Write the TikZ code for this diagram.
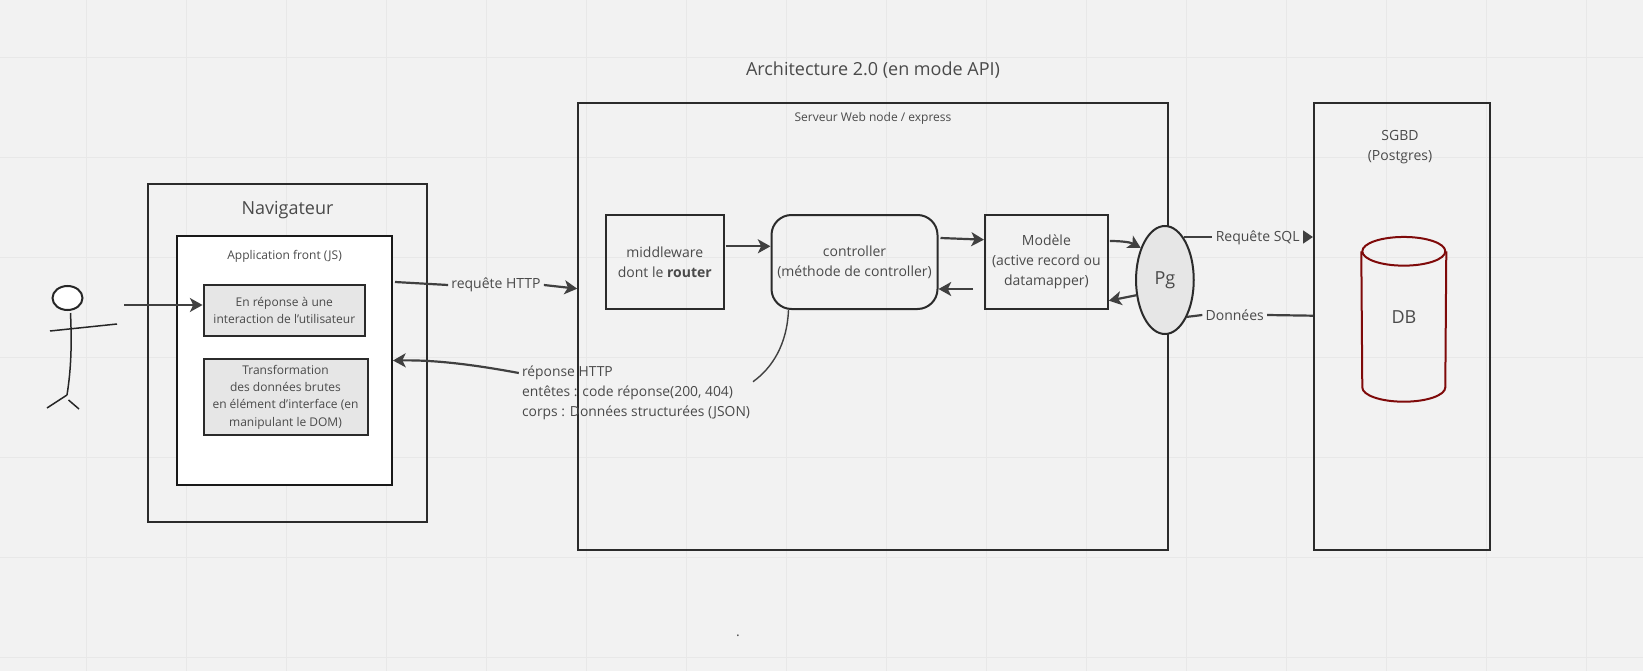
\documentclass[tikz,border=0pt]{standalone}
\usepackage{fontspec}
\setmainfont{Open Sans}
\usetikzlibrary{shapes.geometric,arrows.meta}
\newdimen\PX
\PX=0.75pt
\definecolor{bgcol}{HTML}{F2F2F2}
\definecolor{gridcol}{HTML}{E8E8E8}
\definecolor{inkcol}{HTML}{2B2B2B}
\definecolor{txtcol}{HTML}{4A4A4A}
\definecolor{greycol}{HTML}{E6E6E6}
\definecolor{dbcol}{HTML}{7F0A0A}
\newcommand{\bigtxt}{\fontsize{13.5}{15}\selectfont}
\newcommand{\midtxt}{\fontsize{10.5}{15}\selectfont}
\newcommand{\smalltxt}{\fontsize{9}{12.9}\selectfont}
\tikzset{
    boxnode/.style={draw=inkcol, line width=2*\PX, inner sep=0pt, align=center, text=txtcol, font=\midtxt},
    lblnode/.style={inner sep=3*\PX, text=txtcol, font=\midtxt, align=center},
    linkline/.style={draw=inkcol!90!white, line width=2.2*\PX},
    linkarrow/.style={linkline, -{Stealth[length=9.5pt,width=10.5pt,inset=2.5pt]}},
    stickline/.style={draw=black!85, line width=1.5*\PX},
    dbline/.style={draw=dbcol, line width=2*\PX}
}

\begin{document}
\begin{tikzpicture}[x=0.75pt,y=-0.75pt]
    \useasboundingbox (0,0) rectangle (1643,671);
    \fill [bgcol] (0,0) rectangle (1643,671);

    % grid of the board
    \foreach \X in {0,...,15}{
    \draw [gridcol, line width=1.2*\PX] (86.7+\X*100,0) -- (86.7+\X*100,671);
    }
    \foreach \Y in {0,...,6}{
    \draw [gridcol, line width=1.2*\PX] (0,57.3+\Y*100) -- (1643,57.3+\Y*100);
    }

    \path (873,70) node (title) [lblnode, font=\bigtxt]{Architecture 2.0 (en mode API)};

    % browser side
    \path (287.3,353) node (nav) [boxnode, minimum width=279.5*\PX, minimum height=338*\PX]{};
    \path (287.5,209.7) node (navlbl) [lblnode, font=\bigtxt]{Navigateur};
    \path (284.5,360.5) node (front) [boxnode, fill=white, draw=black!90, minimum width=215*\PX, minimum height=249*\PX]{};
    \path (284.6,256) node (frontlbl) [lblnode, font=\smalltxt]{Application front (JS)};
    \path (284.3,310.5) node (interact) [boxnode, fill=greycol, font=\smalltxt, minimum width=161.5*\PX, minimum height=51*\PX]{En réponse à une\\interaction de l'utilisateur};
    \path (285.5,397.2) node (transfo) [boxnode, fill=greycol, font=\smalltxt, minimum width=164*\PX, minimum height=76.5*\PX]{Transformation\\des données brutes\\en élément d'interface (en\\manipulant le DOM)};

    % web server
    \path (873,326.7) node (server) [boxnode, minimum width=589.6*\PX, minimum height=446.5*\PX]{};
    \path (873,118) node (serverlbl) [lblnode, font=\smalltxt]{Serveur Web node / express};
    \path (664.8,262) node (middle) [boxnode, minimum width=117.7*\PX, minimum height=94*\PX]{middleware\\dont le \textbf{router}};
    \path (854.5,262) node (ctrl) [boxnode, rectangle, rounded corners=20*\PX, minimum width=166*\PX, minimum height=94*\PX]{controller\\(méthode de controller)};
    \path (1046.4,262) node (model) [boxnode, minimum width=122.8*\PX, minimum height=94*\PX]{Modèle\\(active record ou\\datamapper)};

    % database side
    \path (1401.9,326.7) node (sgbd) [boxnode, minimum width=175.7*\PX, minimum height=446.5*\PX]{};
    \path (1400,147) node (sgbdlbl) [lblnode]{SGBD\\(Postgres)};
    \path (1403.8,251.3) node (dbtop) [dbline, ellipse, minimum width=83*\PX, minimum height=28.7*\PX, inner sep=0pt]{};
    \draw [dbline] (dbtop.west) -- (1362.3,387.4) .. controls (1362.3,395.3) and (1380.9,401.7) .. (1403.8,401.7)
        .. controls (1426.7,401.7) and (1445.3,395.3) .. (1445.3,387.4) -- (dbtop.east);
    \path (1404,317) node (dblbl) [lblnode, font=\bigtxt]{DB};
    \path (1164.9,280) node (pg) [boxnode, ellipse, fill=greycol, font=\bigtxt, minimum width=57.7*\PX, minimum height=108*\PX]{Pg};

    % labels on the links
    \path (496,285) node (reqlbl) [lblnode]{requête HTTP};
    \path (518.8,393) node (replbl) [lblnode, anchor=west, align=left, font=\fontsize{10.4}{15}\selectfont]{réponse HTTP\\entêtes : code réponse(200, 404)\\corps : Données structurées (JSON)};
    \path (1257.7,238) node (sqllbl) [lblnode, inner xsep=4*\PX]{Requête SQL};
    \path (1234.7,315) node (datalbl) [lblnode]{Données};
    \path (738,636) node (dot) [lblnode]{.};

    % the stick figure
    \path (67.5,298) node (head) [ellipse, draw=black!85, line width=2*\PX, fill=white, minimum width=30*\PX, minimum height=24*\PX, inner sep=0pt]{};
    \coordinate (hip) at (67,395);
    \draw [stickline] (head.south) ++(3,2) .. controls (72,345) and (71,370) .. (hip);
    \draw [stickline] (50,331) -- (117,324);
    \draw [stickline] (hip) -- (47,408);
    \draw [stickline] (68.5,400) -- (79,409);
    \coordinate (hand) at (124,305);

    % links
    \draw [linkarrow, line width=1.8*\PX] (hand) -- ([yshift=5.5*\PX]interact.west);
    \draw [linkline] ([xshift=2*\PX,yshift=78.5*\PX]front.east) -- (reqlbl.west);
    \draw [linkarrow] (reqlbl.east) -- ([yshift=38*\PX]server.west);
    \draw [linkarrow] ([yshift=20*\PX]replbl.west) .. controls (465,363) and (430,360) .. (front.east);
    \coordinate (noteend) at (753,381.7);
    \draw [linkline, line width=1.4*\PX] ([xshift=-66*\PX]ctrl.south) .. controls (787,345) and (772,368) .. (noteend);
    \draw [linkarrow] ([xshift=1*\PX,yshift=15.7*\PX]middle.east) -- ([yshift=15.7*\PX]ctrl.west);
    \draw [linkarrow] ([xshift=2*\PX,yshift=24*\PX]ctrl.east) -- ([yshift=22.3*\PX]model.west);
    \coordinate (modelout) at (973,289);
    \draw [linkarrow] (modelout) -- ([yshift=-27*\PX]ctrl.east);
    \draw [linkarrow] ([xshift=1*\PX,yshift=21*\PX]model.east) .. controls (1120,241) and (1130,242) .. (pg.127);
    \draw [linkarrow] (pg.208) -- ([yshift=-38.7*\PX]model.east);
    \draw [linkline] (pg.66 |- sqllbl.west) ++(0,-1) -- ([yshift=1*\PX]sqllbl.west);
    \draw [linkline, -{Triangle[length=7.5pt,width=9.5pt]}] ([yshift=1*\PX]sqllbl.east) -- ([yshift=89.7*\PX]sgbd.west);
    \draw [linkline] (pg.-59) -- (datalbl.west);
    \draw [linkline] (datalbl.east) -- ([yshift=11*\PX]sgbd.west);

\end{tikzpicture}
\end{document}
